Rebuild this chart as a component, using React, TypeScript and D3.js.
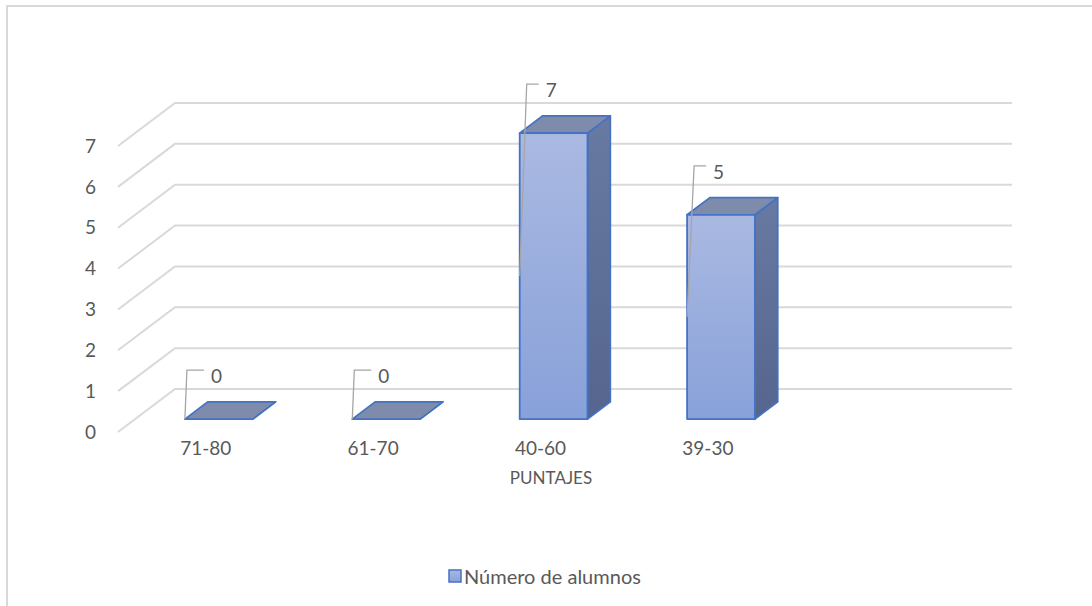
import React from "react";
import * as d3 from "d3";

const categories: string[] = ["71-80", "61-70", "40-60", "39-30", ""];
const values: (number | null)[] = [0, 0, 7, 5, null];
const yTicks: number[] = [0, 1, 2, 3, 4, 5, 6, 7];
const xAxisTitle = "PUNTAJES";
const seriesName = "Número de alumnos";

const W = 1092;
const H = 606;
const FONT = "Lato, 'Open Sans', 'Noto Sans', sans-serif";
const TEXT = "#595959";
const GRID = "#d9d9d9";
const OUTLINE = "#4472c4";

// 3D projection parameters
const DX = 57; // depth shift x (front -> back)
const DY = -43; // depth shift y
const zFront = 0.3;
const zBack = 0.7;

export default function App() {
  const x = d3.scaleBand<string>().domain(categories).range([118, 955]).padding(0);
  const y = d3.scaleLinear().domain([0, 7]).range([432, 146]);
  const bw = x.bandwidth() * 0.405;

  const P = (px: number, v: number, z: number): [number, number] => [px + z * DX, y(v) + z * DY];
  const poly = (pts: [number, number][]) => pts.map((p) => p.join(",")).join(" ");

  return (
    <svg
      width={W}
      height={H}
      style={{ position: "absolute", left: 0, top: 0, background: "#fff" }}
      fontFamily={FONT}
    >
      <defs>
        <linearGradient id="front" x1="0" y1="0" x2="0" y2="1">
          <stop offset="0" stopColor="#aab9e2" />
          <stop offset="1" stopColor="#88a1d9" />
        </linearGradient>
        <linearGradient id="side" x1="0" y1="0" x2="0" y2="1">
          <stop offset="0" stopColor="#687aa2" />
          <stop offset="1" stopColor="#55658e" />
        </linearGradient>
      </defs>
      <rect x={0} y={0} width={W} height={H} fill="#fff" />
      <rect x={7} y={6} width={W + 20} height={H + 20} fill="none" stroke={GRID} strokeWidth={2} />

      {/* gridlines */}
      {yTicks.map((t) => {
        const [fx, fy] = P(x.range()[0], t, 0);
        const [bx, by] = P(x.range()[0], t, 1);
        const [ex] = P(x.range()[1], t, 1);
        return (
          <path
            key={t}
            d={`M${fx},${fy}L${bx},${by}L${ex},${by}`}
            fill="none"
            stroke={GRID}
            strokeWidth={2}
          />
        );
      })}

      {/* y tick labels */}
      {yTicks.map((t) => (
        <text key={t} x={96} y={y(t)} dy="0.35em" textAnchor="end" fontSize={19} fill={TEXT}>
          {t}
        </text>
      ))}

      {/* bars */}
      {categories.map((c, i) => {
        const v = values[i];
        if (v === null || v === undefined) return null;
        const cx = (x(c) as number) + x.bandwidth() / 2;
        const l = cx - bw / 2;
        const r = cx + bw / 2;
        const top = poly([P(l, v, zFront), P(r, v, zFront), P(r, v, zBack), P(l, v, zBack)]);
        const side = poly([P(r, v, zFront), P(r, v, zBack), P(r, 0, zBack), P(r, 0, zFront)]);
        const front = poly([P(l, v, zFront), P(r, v, zFront), P(r, 0, zFront), P(l, 0, zFront)]);
        const [flx, fly] = P(l, v / 2, zFront);
        const [, labY] = P(l, v + 1.05, zFront);
        const cornerX = flx + (v > 0 ? 7 : 2);
        const cornerY = labY - 6;
        return (
          <g key={c}>
            <polygon points={side} fill="url(#side)" stroke={OUTLINE} strokeWidth={1.8} strokeLinejoin="round" />
            <polygon points={top} fill="#7f8bab" stroke={OUTLINE} strokeWidth={1.8} strokeLinejoin="round" />
            {v > 0 && (
              <polygon points={front} fill="url(#front)" stroke={OUTLINE} strokeWidth={1.8} strokeLinejoin="round" />
            )}
            <path
              d={`M${flx},${fly}L${cornerX},${cornerY}L${flx + 19},${cornerY}`}
              fill="none"
              stroke="#a6a6a6"
              strokeWidth={1.3}
            />
            <text x={flx + 26} y={labY} dy="0.35em" fontSize={19} fill={TEXT}>
              {v}
            </text>
          </g>
        );
      })}

      {/* category labels */}
      {categories.map((c) => (
        <text
          key={c}
          x={(x(c) as number) + x.bandwidth() / 2 + 4}
          y={448}
          dy="0.35em"
          textAnchor="middle"
          fontSize={19}
          fill={TEXT}
        >
          {c}
        </text>
      ))}

      <text x={551} y={478} dy="0.35em" textAnchor="middle" fontSize={17} fill={TEXT}>
        {xAxisTitle}
      </text>

      {/* legend */}
      <rect x={449} y={570} width={12} height={12} fill="url(#front)" stroke={OUTLINE} strokeWidth={1.5} />
      <text x={464} y={577} dy="0.35em" fontSize={20} fill={TEXT}>
        {seriesName}
      </text>
    </svg>
  );
}
